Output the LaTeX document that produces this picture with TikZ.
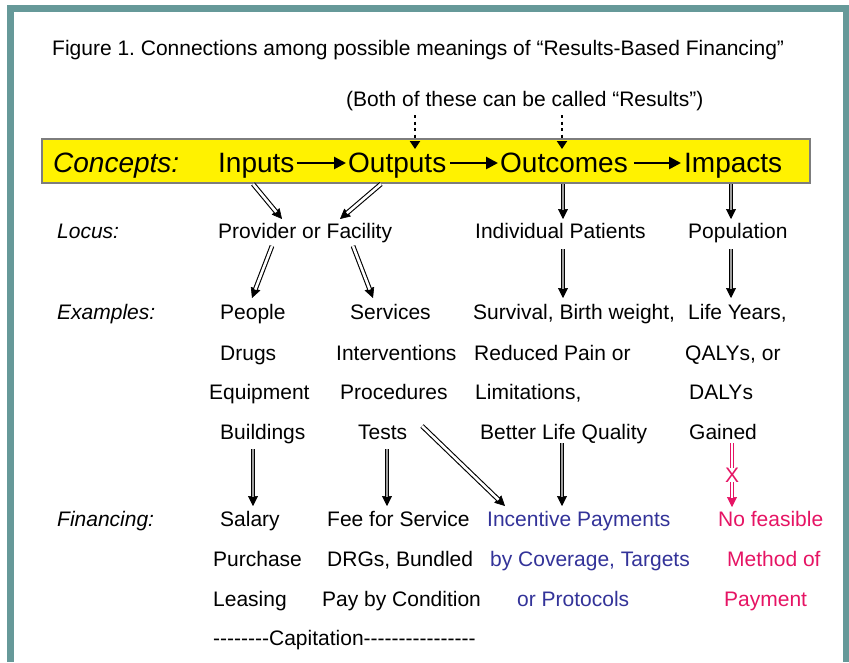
\documentclass[tikz,border=0pt]{standalone}
\usepackage{fontspec}
\setmainfont{Liberation Sans}
\usetikzlibrary{arrows.meta}
\definecolor{frameteal}{RGB}{102,153,153}
\definecolor{rbblue}{RGB}{51,51,153}
\definecolor{rbpink}{RGB}{230,20,100}
\definecolor{bargray}{RGB}{125,125,125}
\newcommand\hy{-\kern0pt}
\frenchspacing
\begin{document}
\begin{tikzpicture}[x=1pt,y=-1pt,
  txt/.style={anchor=base west, inner sep=0pt, font=\fontsize{21}{25}\selectfont},
  lab/.style={anchor=base west, inner sep=0pt, font=\fontsize{21}{25}\selectfont\itshape},
  big/.style={anchor=base west, inner sep=0pt, font=\fontsize{28}{32}\selectfont},
  bigit/.style={anchor=base west, inner sep=0pt, font=\fontsize{28}{32}\selectfont\itshape},
  blue/.style={txt, text=rbblue},
  pink/.style={txt, text=rbpink},
  tipblk/.style={line width=0.6pt, -{Triangle[length=10pt,width=10pt]}},
  tippink/.style={draw=rbpink, line width=0.6pt, -{Triangle[length=10pt,width=10pt]}},
  shaftg/.style={line width=1.1pt, double=gray!75, double distance=2.6pt, shorten >=9pt},
  shaftw/.style={line width=1.1pt, double=white, double distance=2.6pt, shorten >=9pt},
  shaftp/.style={draw=rbpink, line width=1pt, double=white, double distance=2.2pt},
  carrow/.style={line width=2.6pt, -{Triangle[length=12pt,width=12pt]}},
  dotarrow/.style={line width=2.8pt, dash pattern=on 3pt off 3.5pt, -{Triangle[length=8pt,width=10pt]}},
  conceptbar/.style={draw=bargray, line width=1.2pt, fill=yellow, minimum width=768pt, minimum height=44pt, inner sep=0pt}
]
\useasboundingbox (0,0) rectangle (849,662);
\fill[white] (0,0) rectangle (849,662);
% frame
\fill[frameteal] (7,5) rectangle (14,662);
\fill[frameteal] (7,5) rectangle (849,12);
\fill[frameteal] (843,5) rectangle (849,662);

% title
\node[txt] (title) at (52,55) {Figure 1. Connections among possible meanings of “Results-Based Financing”};
\node[txt] (both) at (346,106) {(Both of these can be called “Results”)};

% concept bar
\node[conceptbar] (bar) at (426,161) {};
\node[bigit] (concepts) at (53,172) {Concepts:};
\node[big] (inp) at (218,172) {Inputs};
\node[big] (outp) at (348,172) {Outputs};
\node[big] (outc) at (500,172) {Outcomes};
\node[big] (imp) at (684,172) {Impacts};
\coordinate (cy) at (0,163);
\draw[carrow] ([xshift=2pt]inp.east |- cy) -- ([xshift=-2pt]outp.west |- cy);
\draw[carrow] ([xshift=4pt]outp.east |- cy) -- ([xshift=-2pt]outc.west |- cy);
\draw[carrow] ([xshift=6pt]outc.east |- cy) -- ([xshift=-3pt]imp.west |- cy);

% dotted arrows
\coordinate (d1s) at (415,115); \coordinate (d1e) at (415,149);
\coordinate (d2s) at (562,115); \coordinate (d2e) at (562,149);
\draw[dotarrow] (d1s) -- (d1e);
\draw[dotarrow] (d2s) -- (d2e);

% locus row
\node[lab] (locus) at (57,238) {Locus:};
\node[txt] (prov) at (218,238) {Provider or Facility};
\node[txt] (indiv) at (475,238) {Individual Patients};
\node[txt] (pop) at (688,238) {Population};

% examples rows
\node[lab] (exlab) at (57,319) {Examples:};
\node[txt] (people) at (220,319) {People};
\node[txt] (services) at (350,319) {Services};
\node[txt] (survival) at (473,319) {Survival, Birth weight,};
\node[txt] (lifey) at (688,319) {Life Years,};
\node[txt] (drugs) at (220,360) {Drugs};
\node[txt] (interv) at (336,360) {Interventions};
\node[txt] (reduced) at (474,360) {Reduced Pain or};
\node[txt] (qalys) at (685,360) {QALYs, or};
\node[txt] (equip) at (209,399) {Equipment};
\node[txt] (proc) at (340,399) {Procedures};
\node[txt] (limit) at (475,399) {Limitations,};
\node[txt] (dalys) at (689,399) {DALYs};
\node[txt] (build) at (220,439) {Buildings};
\node[txt] (tests) at (358,439) {Tests};
\node[txt] (blq) at (480,439) {Better Life Quality};
\node[txt] (gained) at (689,439) {Gained};

% financing rows
\node[lab] (finlab) at (57,526) {Financing:};
\node[txt] (salary) at (220,526) {Salary};
\node[txt] (fee) at (327,526) {Fee for Service};
\node[blue] (incent) at (487,526) {Incentive Payments};
\node[pink] (nofeas) at (718,526) {No feasible};
\node[txt] (purchase) at (213,566) {Purchase};
\node[txt] (drgs) at (327,566) {DRGs, Bundled};
\node[blue] (bycov) at (490,566) {by Coverage, Targets};
\node[pink] (method) at (727,566) {Method of};
\node[txt] (leasing) at (213,606) {Leasing};
\node[txt] (paycond) at (322,606) {Pay by Condition};
\node[blue] (orprot) at (517,606) {or Protocols};
\node[pink] (payment) at (724,606) {Payment};
\node[txt] (capit) at (213,645) {\hy\hy\hy\hy\hy\hy\hy\hy Capitation\hy\hy\hy\hy\hy\hy\hy\hy\hy\hy\hy\hy\hy\hy\hy-};

% arrow end points
\coordinate (a1s) at (253,184); \coordinate (a1e) at (282,219);
\coordinate (a2s) at (381,184); \coordinate (a2e) at (340,219);
\coordinate (a3s) at (563,184); \coordinate (a3e) at (563,219);
\coordinate (a4s) at (731,184); \coordinate (a4e) at (731,219);
\coordinate (a5s) at (272,246); \coordinate (a5e) at (252,298);
\coordinate (a6s) at (353,246); \coordinate (a6e) at (373,298);
\coordinate (a7s) at (563,249); \coordinate (a7e) at (563,298);
\coordinate (a8s) at (731,249); \coordinate (a8e) at (731,298);
\coordinate (a9s) at (253,449); \coordinate (a9e) at (253,506);
\coordinate (a10s) at (387,449); \coordinate (a10e) at (387,506);
\coordinate (a11s) at (422,426); \coordinate (a11e) at (505,506);
\coordinate (a12s) at (562,443); \coordinate (a12e) at (562,506);

\foreach \s/\e in {a1s/a1e,a2s/a2e,a5s/a5e,a6s/a6e,a11s/a11e}{
  \draw[tipblk] (\s) -- (\e);
  \draw[shaftw] (\s) -- (\e);
}
\foreach \s/\e in {a3s/a3e,a4s/a4e,a7s/a7e,a8s/a8e,a9s/a9e,a10s/a10e,a12s/a12e}{
  \draw[tipblk] (\s) -- (\e);
  \draw[shaftg] (\s) -- (\e);
}

% pink blocked arrow
\node[txt, anchor=center, text=rbpink] (xmark) at (732,475) {X};
\coordinate (p1s) at (732,443);
\coordinate (p2e) at (732,507);
\draw[shaftp] (p1s) -- (xmark.north);
\draw[tippink] (xmark.south) -- (p2e);
\draw[shaftp, shorten >=9pt] (xmark.south) -- (p2e);
\end{tikzpicture}
\end{document}
